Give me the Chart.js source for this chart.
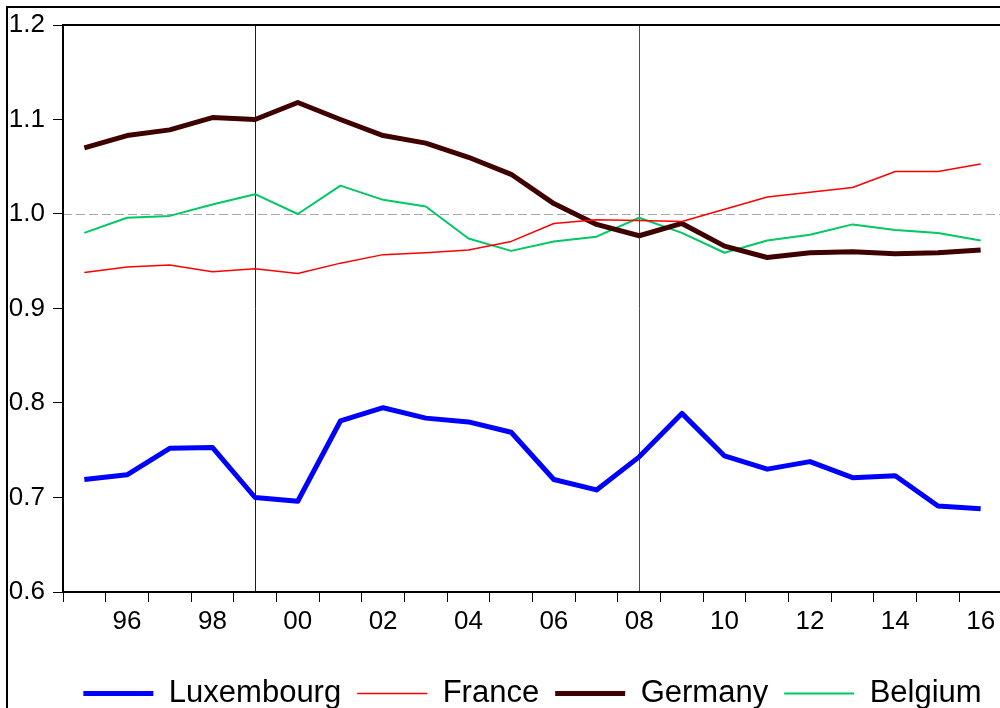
<!DOCTYPE html>
<html lang="en">
<head>
  <meta charset="UTF-8"/>
  <title>Luxembourg, France, Germany, Belgium</title>
  <script src="https://cdn.jsdelivr.net/npm/chart.js"></script>
  <style>
    html, body {
      margin: 0;
      padding: 0;
      background: #fff;
      overflow: hidden;
    }

    #wrap {
      position: relative;
      width: 1000px;
      height: 708px;
      overflow: hidden;
    }

    canvas {
      position: absolute;
      left: 0;
      top: 0;
    }
  </style>
</head>
<body>

  <div id="wrap"><canvas id="chart" width="1010" height="719"></canvas></div>

  <script>
    // Data (annual, 1995-2016)
    const years = [1995, 1996, 1997, 1998, 1999, 2000, 2001, 2002, 2003, 2004, 2005,
                   2006, 2007, 2008, 2009, 2010, 2011, 2012, 2013, 2014, 2015, 2016];

    const luxembourg = [0.719, 0.724, 0.752, 0.753, 0.700, 0.696, 0.781, 0.795, 0.784, 0.780, 0.769,
                        0.719, 0.708, 0.743, 0.789, 0.744, 0.730, 0.738, 0.721, 0.723, 0.691, 0.688];
    const france     = [0.938, 0.944, 0.946, 0.939, 0.942, 0.937, 0.948, 0.957, 0.959, 0.962, 0.971,
                        0.990, 0.994, 0.993, 0.992, 1.005, 1.018, 1.023, 1.028, 1.045, 1.045, 1.053];
    const germany    = [1.070, 1.083, 1.089, 1.102, 1.100, 1.118, 1.100, 1.083, 1.075, 1.060, 1.042,
                        1.011, 0.989, 0.977, 0.990, 0.966, 0.954, 0.959, 0.960, 0.958, 0.959, 0.962];
    const belgium    = [0.980, 0.996, 0.998, 1.010, 1.021, 1.000, 1.030, 1.015, 1.008, 0.974, 0.961,
                        0.971, 0.976, 0.996, 0.980, 0.959, 0.972, 0.978, 0.989, 0.983, 0.980, 0.972];

    const yTicks = [0.6, 0.7, 0.8, 0.9, 1.0, 1.1, 1.2];
    const referenceLevel = 1.0;
    const markerYears = [1999, 2008];

    const FONT = "'Liberation Sans', Arial, sans-serif";

    // frame, dashed 1.0 line and the two vertical markers
    const guides = {
      id: 'guides',
      beforeDraw(chart) {
        const { ctx, width, height } = chart;
        ctx.save();
        ctx.fillStyle = '#fff';
        ctx.fillRect(0, 0, width, height);
        ctx.strokeStyle = '#000';
        ctx.lineWidth = 2;
        ctx.beginPath();
        ctx.moveTo(7, height + 10);
        ctx.lineTo(7, 7);
        ctx.lineTo(width + 10, 7);
        ctx.stroke();
        ctx.restore();
      },
      beforeDatasetsDraw(chart) {
        const { ctx, chartArea: a, scales: { x, y } } = chart;
        ctx.save();
        ctx.lineWidth = 1;
        ctx.strokeStyle = '#a8a8a8';
        ctx.setLineDash([9, 4]);
        const yRef = Math.round(y.getPixelForValue(referenceLevel)) + 0.5;
        ctx.beginPath();
        ctx.moveTo(a.left, yRef);
        ctx.lineTo(a.right, yRef);
        ctx.stroke();
        ctx.restore();

        const markerColors = ['rgb(0, 0, 255)', 'rgb(255, 0, 0)'];
        markerYears.forEach((yr, i) => {
          const px = Math.round(x.getPixelForValue(years.indexOf(yr))) + 0.5;
          ctx.save();
          ctx.setLineDash([]);
          ctx.lineWidth = 1;
          ctx.beginPath();
          ctx.moveTo(px, a.top);
          ctx.lineTo(px, a.bottom);
          ctx.strokeStyle = markerColors[i];
          ctx.stroke();
          ctx.restore();
        });
      },
      afterDraw(chart) {
        const { ctx, chartArea: a } = chart;
        ctx.save();
        ctx.strokeStyle = '#000';
        ctx.lineWidth = 2;
        ctx.strokeRect(a.left, a.top, a.right - a.left, a.bottom - a.top);
        ctx.restore();
      }
    };

    const data = {
      labels: years.map(String),
      datasets: [
        { label: 'Luxembourg', data: luxembourg, borderColor: '#0000ff', borderWidth: 5 },
        { label: 'France', data: france, borderColor: '#ff0000', borderWidth: 1.5 },
        { label: 'Germany', data: germany, borderColor: '#3f0000', borderWidth: 5 },
        { label: 'Belgium', data: belgium, borderColor: '#00c864', borderWidth: 2 }
      ]
    };

    const config = {
      type: 'line',
      data: data,
      options: {
        responsive: false,
        animation: false,
        layout: { padding: { top: 25, right: 8, left: 0, bottom: 0 } },
        elements: {
          point: { radius: 0, hoverRadius: 0 },
          line: { tension: 0, borderJoinStyle: 'round', fill: false }
        },
        plugins: {
          tooltip: { enabled: false },
          legend: {
            position: 'bottom',
            fullSize: false,
            labels: {
              color: '#000',
              font: { family: FONT, size: 31 },
              usePointStyle: true,
              pointStyleWidth: 70,
              padding: 16,
              generateLabels(chart) {
                return chart.data.datasets.map((ds, i) => ({
                  text: ds.label,
                  strokeStyle: ds.borderColor,
                  fillStyle: ds.borderColor,
                  lineWidth: ds.borderWidth,
                  pointStyle: 'line',
                  hidden: false,
                  datasetIndex: i
                }));
              }
            }
          }
        },
        scales: {
          x: {
            offset: true,
            border: { display: false },
            grid: { offset: true, drawOnChartArea: false, tickLength: 10, color: '#000' },
            ticks: {
              autoSkip: false,
              maxRotation: 0,
              padding: 4,
              color: '#000',
              font: { family: FONT, size: 26 },
              callback: (v, i) => (years[i] % 2 === 0 ? String(years[i]).slice(2) : '')
            },
            afterFit: (s) => { s.height = 70; }
          },
          y: {
            min: 0.6,
            max: 1.2,
            border: { display: false },
            grid: { drawOnChartArea: false, tickLength: 10, color: '#000' },
            afterBuildTicks: (s) => { s.ticks = yTicks.map(v => ({ value: v })); },
            ticks: {
              padding: 8,
              color: '#000',
              font: { family: FONT, size: 26 },
              callback: (v) => v.toFixed(1)
            },
            afterFit: (s) => { s.width = 63; }
          }
        }
      },
      plugins: [guides]
    };

    new Chart(document.getElementById('chart'), config);
  </script>
</body>
</html>
